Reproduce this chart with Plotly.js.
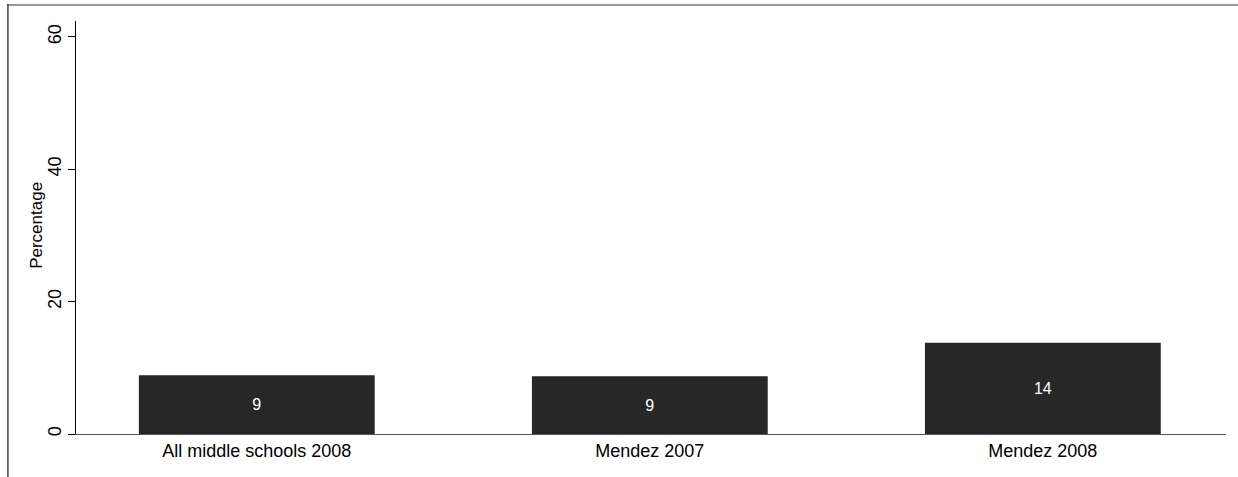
<!DOCTYPE html>
<html><head><meta charset="utf-8">
<script src="https://cdn.plot.ly/plotly-3.0.1.min.js"></script>
<style>html,body{margin:0;padding:0;background:#fff}#chart{width:1238px;height:477px}</style>
</head><body><div id="chart"></div>
<script>
const categories = ["All middle schools 2008", "Mendez 2007", "Mendez 2008"];
const values = [8.87, 8.72, 13.8];
const labels = ["9", "9", "14"];
const yTicks = [0, 20, 40, 60];
const yTitle = "Percentage";

const trace = {
  type: 'bar', x: [0,1,2], y: values, width: 0.6,
  text: labels, textposition: 'inside', insidetextanchor: 'middle',
  textfont: {family: 'Liberation Sans, Arial, sans-serif', size: 16, color: '#ffffff'},
  marker: {color: '#272727', line: {width: 0}},
  hoverinfo: 'none', cliponaxis: false
};
const layout = {
  width: 1238, height: 477,
  margin: {l: 76, r: 12, t: 21, b: 42.5},
  paper_bgcolor: '#fff', plot_bgcolor: '#fff',
  showlegend: false,
  font: {family: 'Liberation Sans, Arial, sans-serif', size: 16, color: '#000'},
  xaxis: {
    range: [-0.46, 2.466], tickvals: [0,1,2], ticktext: categories,
    showgrid: false, zeroline: false, showline: true, linecolor: '#555', linewidth: 1,
    ticks: '', tickfont: {size: 18}, fixedrange: true
  },
  yaxis: {
    range: [0, 62.4], tickvals: yTicks, ticktext: yTicks.map(String),
    tickangle: -90, ticks: 'outside', ticklen: 7, tickcolor: '#000', tickwidth: 1,
    showgrid: false, zeroline: false, showline: true, linecolor: '#000', linewidth: 1,
    tickfont: {size: 18}, ticklabelstandoff: 0
  },
  annotations: [
    {text: yTitle, xref: 'paper', yref: 'paper', x: -0.0339, y: 0.504, xanchor: 'center', yanchor: 'middle',
     textangle: -90, showarrow: false, font: {size: 17, color: '#000'}}
  ],
  shapes: [
    {type: 'line', xref: 'paper', yref: 'paper', x0: -0.0601, x1: 1.02, y0: 1.0390, y1: 1.0390, line: {color: '#999', width: 2}},
    {type: 'line', xref: 'paper', yref: 'paper', x0: -0.0592, x1: -0.0592, y0: 1.0410, y1: -0.2, line: {color: '#444', width: 1.5}}
  ]
};
Plotly.newPlot('chart', [trace], layout, {displayModeBar: false, staticPlot: true});
</script></body></html>
